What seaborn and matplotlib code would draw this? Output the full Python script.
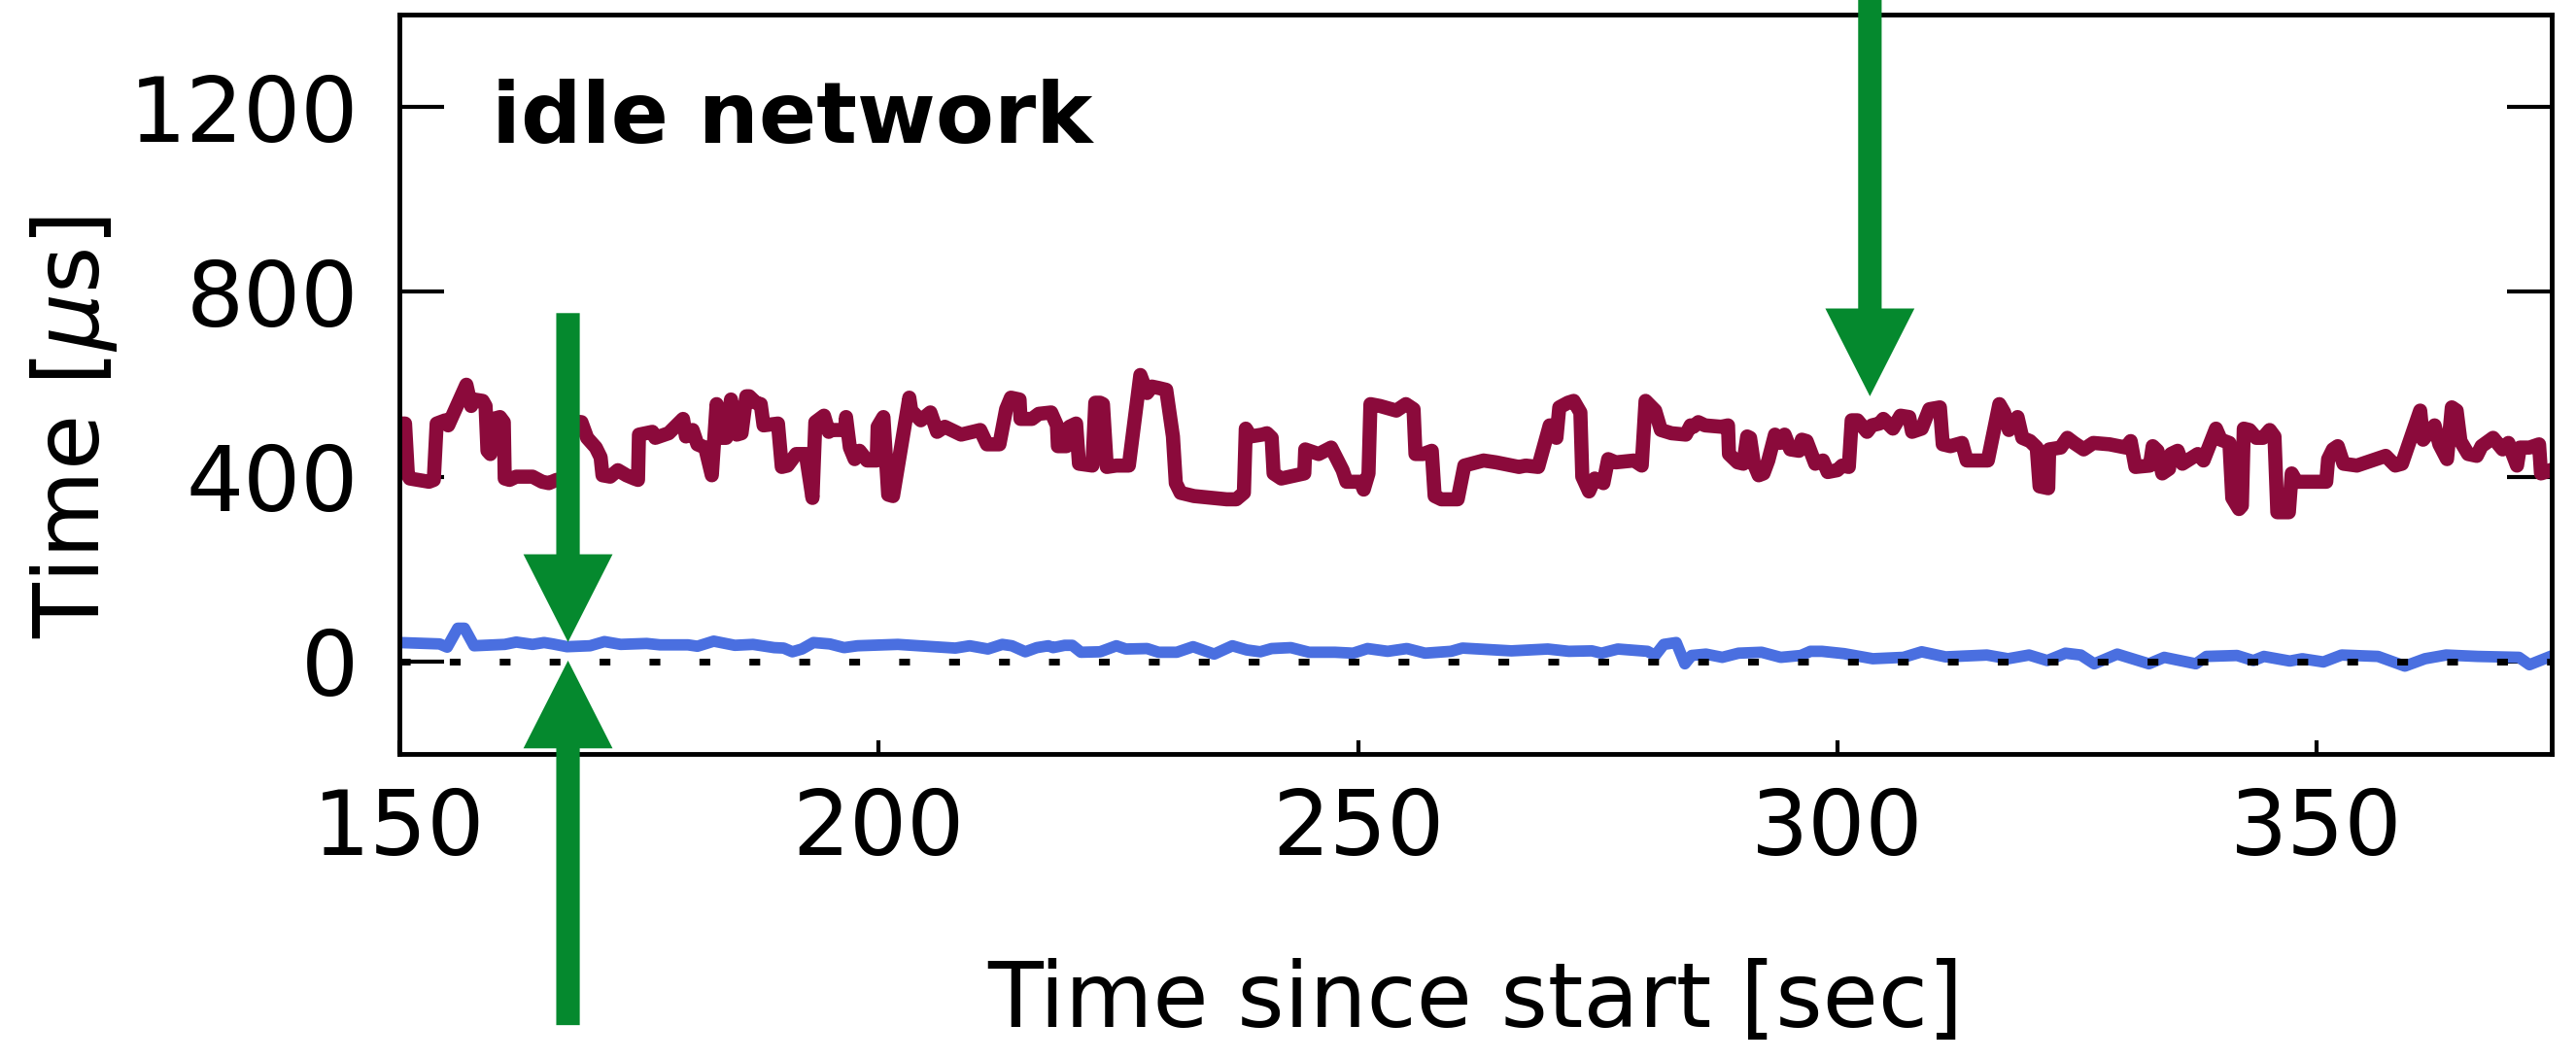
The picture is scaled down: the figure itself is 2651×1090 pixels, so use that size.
import matplotlib
matplotlib.use("Agg")
import matplotlib.pyplot as plt
from matplotlib.patches import FancyArrow
import seaborn as sns

# upper (red) series: time since start [sec] / time [us]
red_t = [150.0, 150.6, 150.9, 151.1, 153.1, 153.6, 153.9, 154.8, 155.1, 157.0,
         157.5, 157.8, 158.7, 159.0, 159.2, 159.5, 159.8, 160.5, 160.9, 161.0,
         161.5, 162.2, 163.9, 164.9, 165.6, 166.4, 167.5, 168.0, 169.0, 169.6,
         170.5, 171.0, 171.2, 172.0, 172.8, 173.7, 174.5, 174.9, 175.0, 176.4,
         176.7, 178.1, 179.6, 179.9, 180.6, 181.1, 181.9, 182.6, 183.1, 183.5,
         184.1, 184.6, 185.2, 185.7, 186.2, 186.5, 187.2, 187.7, 188.0, 189.5,
         189.9, 190.5, 191.4, 192.4, 193.1, 193.4, 194.3, 194.8, 195.1, 196.5,
         196.6, 197.0, 197.5, 198.0, 198.8, 199.8, 199.9, 200.5, 201.0, 201.5,
         203.2, 203.4, 204.4, 205.4, 206.1, 206.9, 208.6, 210.6, 211.3, 212.6,
         213.3, 213.8, 214.7, 214.8, 216.0, 216.7, 218.0, 218.6, 218.7, 219.6,
         219.9, 220.6, 220.9, 222.3, 222.6, 223.1, 223.4, 223.8, 224.8, 226.1,
         227.3, 228.0, 228.5, 229.2, 230.0, 230.7, 231.0, 231.5, 232.9, 236.3,
         237.3, 238.1, 238.3, 238.8, 240.0, 240.5, 241.0, 241.2, 242.0, 243.5,
         244.4, 244.5, 245.9, 247.2, 248.4, 248.8, 250.3, 250.6, 251.1, 251.3,
         252.3, 254.0, 255.0, 255.8, 256.0, 256.8, 257.7, 258.0, 258.7, 260.4,
         261.1, 263.1, 264.4, 266.8, 267.5, 268.8, 270.0, 270.7, 271.0, 271.9,
         272.5, 273.2, 273.4, 274.1, 274.7, 275.6, 276.1, 276.9, 278.8, 279.6,
         280.0, 281.0, 281.6, 282.7, 284.2, 284.7, 285.0, 285.5, 286.2, 287.9,
         288.6, 288.7, 289.6, 290.2, 290.6, 290.9, 291.3, 291.8, 292.3, 292.8,
         293.5, 294.0, 294.5, 295.1, 296.0, 296.3, 296.8, 297.7, 298.5, 299.0,
         300.0, 300.5, 301.2, 301.5, 302.1, 303.1, 303.6, 304.4, 304.8, 305.8,
         306.6, 307.5, 307.8, 308.8, 309.6, 310.7, 311.0, 311.8, 313.0, 313.5,
         315.7, 316.9, 317.4, 317.9, 318.8, 319.3, 320.1, 320.8, 321.1, 322.0,
         322.1, 323.3, 324.0, 324.7, 325.7, 326.7, 328.4, 330.1, 330.6, 331.1,
         332.6, 332.9, 333.4, 333.9, 334.6, 334.8, 335.5, 336.0, 337.6, 338.2,
         339.5, 340.0, 340.9, 341.2, 341.9, 342.2, 342.4, 343.0, 343.7, 344.4,
         345.1, 345.6, 345.9, 347.1, 347.4, 347.9, 350.5, 351.0, 351.2, 351.7,
         352.2, 352.8, 354.2, 356.2, 357.2, 358.2, 358.9, 360.8, 361.1, 362.3,
         362.8, 363.6, 364.1, 364.6, 365.0, 365.8, 366.7, 367.2, 368.4, 369.4,
         370.0, 370.9, 371.2, 372.2, 373.2, 373.4, 374.8]
red_us = [515, 515, 403, 396, 389, 393, 515, 522, 511, 599,
          553, 567, 564, 553, 456, 449, 525, 529, 518, 396,
          393, 400, 400, 389, 386, 393, 396, 520, 518, 484,
          463, 442, 403, 400, 414, 403, 396, 393, 491, 497,
          484, 494, 525, 487, 501, 470, 463, 403, 557, 484,
          484, 567, 491, 494, 574, 574, 560, 557, 511, 515,
          421, 424, 449, 449, 354, 518, 532, 497, 501, 501,
          529, 463, 438, 456, 435, 435, 508, 529, 361, 358,
          571, 543, 522, 539, 497, 508, 491, 501, 470, 470,
          546, 571, 567, 525, 525, 536, 539, 511, 466, 466,
          508, 515, 428, 424, 560, 560, 557, 421, 424, 424,
          620, 581, 595, 592, 588, 487, 386, 365, 358, 351,
          351, 365, 504, 487, 491, 494, 484, 407, 396, 403,
          407, 459, 449, 463, 414, 389, 389, 372, 407, 557,
          553, 543, 557, 546, 449, 449, 456, 358, 351, 351,
          424, 435, 431, 421, 424, 421, 511, 484, 550, 560,
          564, 539, 400, 368, 396, 386, 438, 431, 435, 424,
          564, 543, 501, 494, 491, 511, 508, 518, 511, 508,
          511, 449, 431, 428, 487, 484, 428, 403, 407, 435,
          491, 473, 491, 459, 456, 480, 477, 428, 435, 410,
          414, 424, 421, 522, 522, 497, 511, 515, 525, 504,
          532, 529, 497, 504, 546, 550, 470, 466, 473, 435,
          435, 557, 539, 501, 529, 484, 477, 463, 379, 375,
          459, 463, 484, 473, 459, 473, 470, 463, 477, 421,
          424, 466, 456, 407, 417, 449, 456, 428, 449, 435,
          504, 480, 473, 354, 330, 337, 504, 501, 484, 484,
          501, 487, 323, 323, 407, 389, 389, 389, 438, 459,
          466, 428, 424, 438, 445, 424, 428, 543, 480, 511,
          470, 438, 550, 543, 477, 449, 445, 466, 484, 459,
          473, 424, 463, 463, 470, 407, 417]

# lower (blue) series
blue_t = [150.0, 154.2, 155.0, 156.1, 156.8, 157.8, 161.0, 162.2, 163.9, 165.1,
          166.0, 167.5, 169.9, 171.4, 173.1, 175.8, 177.2, 180.1, 181.1, 182.8,
          185.0, 186.9, 189.1, 190.1, 191.0, 192.0, 193.2, 194.9, 196.4, 197.8,
          202.0, 204.2, 208.0, 209.5, 211.4, 212.9, 213.9, 215.3, 216.5, 217.7,
          218.2, 219.4, 220.2, 221.1, 223.1, 224.8, 225.8, 228.0, 229.2, 231.1,
          232.8, 235.0, 236.9, 238.4, 239.8, 241.0, 243.0, 244.9, 247.6, 249.5,
          251.0, 253.1, 255.1, 257.0, 259.7, 260.9, 266.0, 269.8, 272.0, 274.4,
          275.4, 277.1, 280.2, 281.0, 281.9, 283.2, 284.1, 284.8, 286.3, 288.0,
          289.7, 292.1, 294.1, 296.2, 297.2, 298.4, 300.7, 303.7, 306.9, 308.8,
          311.3, 315.6, 317.8, 320.0, 321.9, 323.8, 325.4, 326.8, 329.2, 332.5,
          334.1, 337.4, 338.5, 341.7, 343.4, 344.5, 347.2, 348.5, 350.7, 352.6,
          356.4, 359.2, 361.3, 363.5, 366.8, 371.1, 372.2, 374.5]
blue_us = [41, 38, 31, 72, 72, 34, 37, 42, 37, 41,
           38, 32, 34, 43, 37, 39, 36, 36, 33, 44,
           35, 37, 30, 29, 21, 27, 41, 38, 30, 34,
           37, 34, 29, 34, 27, 37, 34, 21, 30, 34,
           30, 35, 35, 20, 21, 34, 27, 28, 20, 20,
           32, 16, 34, 25, 21, 28, 30, 20, 20, 18,
           28, 22, 28, 18, 22, 29, 23, 27, 22, 23,
           18, 27, 22, 13, 37, 41, -5, 13, 16, 9,
           18, 20, 9, 13, 22, 22, 17, 6, 9, 21,
           10, 14, 6, 14, 2, 18, 14, -5, 16, -5,
           9, -5, 11, 13, 2, 11, 1, 6, -1, 14,
           11, -10, 6, 14, 11, 9, -7, 12]

x_ticks = [150, 200, 250, 300, 350]
y_ticks = [0, 400, 800, 1200]

sns.set_style("ticks", rc={"text.color": "black", "axes.labelcolor": "black",
                           "xtick.color": "black", "ytick.color": "black",
                           "axes.edgecolor": "black"})
plt.rcParams['font.family'] = ['DejaVu Sans']
plt.rcParams['mathtext.fontset'] = 'dejavusans'

fig = plt.figure(figsize=(26.51, 10.90), dpi=100)
ax = fig.add_axes([0.1550, 0.2881, 0.8355, 0.6981])

sns.lineplot(x=red_t, y=red_us, color="#8B0A3B", estimator=None,
             sort=False, ax=ax)
sns.lineplot(x=blue_t, y=blue_us, color="#4A6FE0", estimator=None,
             sort=False, ax=ax)
for line, width in zip(ax.lines, [10.5, 8.5]):
    line.set_linewidth(width)
    line.set_solid_joinstyle('round')
    line.set_solid_capstyle('round')
    line.set_zorder(2)

# dotted zero line sits on top of the blue curve
ax.axhline(0, color='black', lw=5, ls=(0, (1.6, 5.8)), zorder=3)

# green markers
green = "#05892E"
arrows = [(303.4, 1460, 574), (167.6, 754, 42), (167.6, -787, 2)]
for x, start, tip in arrows:
    ax.add_patch(FancyArrow(x, start, 0, tip - start, width=2.45,
                            head_width=9.3, head_length=190,
                            length_includes_head=True, color=green, lw=0,
                            clip_on=False, zorder=6))

ax.text(0.043, 0.858, 'idle network', transform=ax.transAxes, color='black',
        fontsize=63, fontweight='bold', va='center', ha='left')

ax.set_xlim(150, 374.5)
ax.set_ylim(-200, 1400)
ax.set_xticks(x_ticks)
ax.set_yticks(y_ticks)

ax.tick_params(axis='y', direction='in', left=True, right=True, length=33,
               width=3, pad=30, labelsize=67, color='black', labelcolor='black')
ax.tick_params(axis='x', direction='in', bottom=True, top=False, length=10,
               width=3, pad=24, labelsize=67, color='black', labelcolor='black')
for s in ax.spines.values():
    s.set_linewidth(3.5)
    s.set_color('black')

ax.set_xlabel('Time since start [sec]', fontsize=67, color='black')
ax.set_ylabel(r'Time [$\mu$s]', fontsize=67, color='black')
ax.xaxis.set_label_coords(0.5, -0.276)
ax.yaxis.set_label_coords(-0.130, 0.4415)

fig.savefig('out.png', dpi=100)
